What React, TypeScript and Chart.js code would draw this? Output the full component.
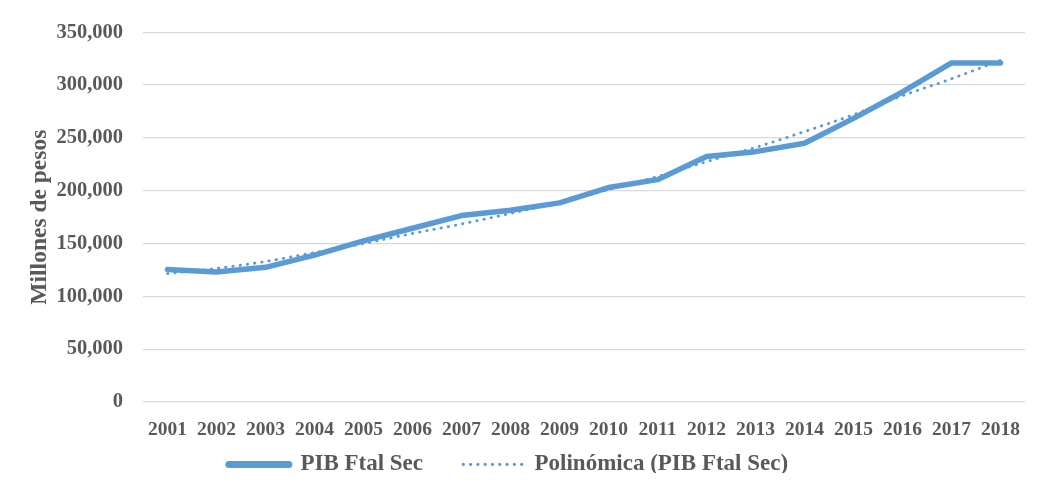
import React, { useEffect, useRef } from "react";
import { Chart, registerables } from "chart.js";

Chart.register(...registerables);

const years = ["2001", "2002", "2003", "2004", "2005", "2006", "2007", "2008", "2009", "2010", "2011", "2012", "2013", "2014", "2015", "2016", "2017", "2018"];
const pibValues = [125500, 123000, 127500, 139000, 152500, 164500, 176500, 181500, 188500, 203000, 210500, 232500, 237000, 245000, 268500, 293500, 321000, 321000];
const trendValues = [121500, 126500, 133000, 141500, 150000, 159500, 168500, 178500, 189000, 201000, 213500, 227500, 241000, 256000, 272000, 290000, 306000, 323500];
const yMin = 0;
const yMax = 350000;
const yStep = 50000;

const BLUE = "#5B9BD5";
const TEXT = "#595959";
const GRID = "#D9D9D9";
const FONT = "'Liberation Serif', 'Times New Roman', serif";

const legendShift = {
  id: "legendShift",
  afterLayout(chart: any) {
    const l = chart.legend;
    if (!l) return;
    const dx = -17;
    l.left += dx;
    l.right += dx;
    l.top = 413;
    l.height = 60;
    l.bottom = 473;
  },
};

export default function App() {
  const ref = useRef<HTMLCanvasElement | null>(null);

  useEffect(() => {
    document.body.style.margin = "0";
    const canvas = ref.current;
    if (!canvas) return;
    const chart = new Chart(canvas, {
      type: "line",
      data: {
        labels: years,
        datasets: [
          {
            label: "PIB Ftal Sec",
            data: pibValues,
            borderColor: BLUE,
            backgroundColor: BLUE,
            borderWidth: 5.5,
            borderCapStyle: "round",
            borderJoinStyle: "round",
            pointRadius: 0,
            tension: 0,
            order: 2,
          },
          {
            label: "Polinómica (PIB Ftal Sec)",
            data: trendValues,
            borderColor: BLUE,
            backgroundColor: BLUE,
            borderWidth: 2.8,
            borderDash: [0.5, 6.8],
            borderCapStyle: "round",
            pointRadius: 0,
            tension: 0.4,
            cubicInterpolationMode: "monotone",
            order: 1,
          },
        ],
      },
      plugins: [legendShift],
      options: {
        responsive: false,
        animation: false,
        layout: { padding: { left: 26, right: 34, top: 32, bottom: 10 } },
        plugins: {
          tooltip: { enabled: false },
          legend: {
            position: "bottom",
            maxHeight: 34,
            labels: {
              usePointStyle: true,
              pointStyle: "line",
              pointStyleWidth: 60,
              boxWidth: 60,
              boxHeight: 7,
              padding: 40,
              color: TEXT,
              font: { family: FONT, size: 23, weight: "bold" },
              generateLabels: (ch: any) =>
                ch.data.datasets.map((ds: any, i: number) => ({
                  text: ds.label,
                  fillStyle: BLUE,
                  strokeStyle: BLUE,
                  lineWidth: i === 0 ? 7 : 2.8,
                  lineDash: i === 0 ? [] : [0.5, 6.8],
                  lineCap: "round",
                  pointStyle: "line",
                  fontColor: TEXT,
                  hidden: false,
                  datasetIndex: i,
                })),
            },
          },
        },
        scales: {
          x: {
            offset: true,
            grid: { display: false, drawTicks: false },
            border: { display: false },
            ticks: {
              color: TEXT,
              font: { family: FONT, size: 19.5, weight: "bold" },
              padding: 16,
              maxRotation: 0,
              autoSkip: false,
            },
            afterFit: (s: any) => {
              s.height = 40;
            },
          },
          y: {
            min: yMin,
            max: yMax,
            grid: { color: GRID, lineWidth: 1.3, drawTicks: false },
            border: { display: false },
            ticks: {
              stepSize: yStep,
              color: TEXT,
              padding: 20,
              font: { family: FONT, size: 20.5, weight: "bold" },
              callback: (v: any) => Number(v).toLocaleString("en-US"),
            },
            title: {
              display: true,
              text: "Millones de pesos",
              color: TEXT,
              font: { family: FONT, size: 23.5, weight: "bold" },
              padding: 0,
            },
            afterFit: (s: any) => {
              s.width = 117;
            },
          },
        },
      },
    });
    return () => chart.destroy();
  }, []);

  return (
    <div style={{ width: 1059, height: 486, background: "#fff" }}>
      <canvas ref={ref} width={1059} height={486} />
    </div>
  );
}
